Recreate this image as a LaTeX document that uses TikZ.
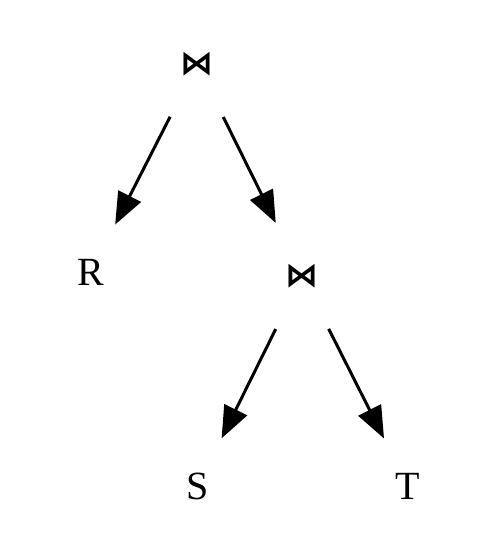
\documentclass[tikz,border=0pt]{standalone}
\usepackage{fontspec}
\setmainfont{Liberation Serif}
\newfontfamily\symfont{DejaVu Sans}
\usetikzlibrary{arrows.meta}
\begin{document}
\begin{tikzpicture}[x=1pt, y=1pt,
		vertex/.style={circle, inner sep=0pt, minimum size=106pt,
			font=\fontsize{40}{48}\selectfont},
		joinop/.style={vertex, minimum size=118pt,
			font=\symfont\bfseries\fontsize{33}{36}\selectfont},
		edge/.style={line width=3pt, -{Triangle[length=32pt, width=25pt]}}]
	\useasboundingbox (0,0) rectangle (500,553);
	\node [joinop] (J1) at (197,489) {⋈};
	\node [vertex] (R) at (91,281) {R};
	\node [joinop] (J2) at (302,277) {⋈};
	\node [vertex] (S) at (198,67) {S};
	\node [vertex] (T) at (408,67) {T};
	\draw [edge] (J1) -- (R);
	\draw [edge] (J1) -- (J2);
	\draw [edge] (J2) -- (S);
	\draw [edge] (J2) -- (T);
\end{tikzpicture}
\end{document}
